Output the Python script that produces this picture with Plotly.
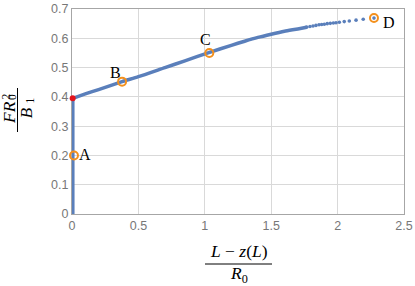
import plotly.graph_objects as go

# ---- data ----
# vertical branch at L - z(L) ~ 0
vert_x = [0.006, 0.006]
vert_y = [0.0, 0.395]

# dense part of the curve (appears as a continuous thick line)
dense_x = [0.006, 0.1, 0.2, 0.377, 0.5, 0.7, 0.85, 1.03, 1.2, 1.3, 1.4, 1.5, 1.6, 1.7, 1.767]
dense_y = [0.395, 0.410, 0.425, 0.452, 0.469, 0.500, 0.523, 0.551, 0.576, 0.590, 0.603, 0.614, 0.624, 0.632, 0.638]

# sparse dots near the end of the curve
dots_x = [1.767, 1.792, 1.815, 1.837, 1.860, 1.880, 1.900, 1.922, 1.945, 1.968,
          1.988, 2.013, 2.050, 2.088, 2.139, 2.193, 2.274]
dots_y = [0.638, 0.640, 0.642, 0.644, 0.646, 0.647, 0.648, 0.650, 0.651, 0.652,
          0.653, 0.655, 0.657, 0.659, 0.662, 0.665, 0.669]

# labelled states
state_names = ["A", "B", "C", "D"]
state_x = [0.015, 0.377, 1.034, 2.274]
state_y = [0.200, 0.452, 0.550, 0.669]
label_x = [0.098, 0.324, 1.007, 2.387]
label_y = [0.202, 0.482, 0.596, 0.653]

# transition point
red_x = [0.005]
red_y = [0.395]

x_ticks = [0, 0.5, 1, 1.5, 2, 2.5]
x_tick_text = ["0", "0.5", "1", "1.5", "2", "2.5"]
y_ticks = [0, 0.1, 0.2, 0.3, 0.4, 0.5, 0.6, 0.7]
y_tick_text = ["0", "0.1", "0.2", "0.3", "0.4", "0.5", "0.6", "0.7"]

BLUE = "#5a7fbb"
ORANGE = "#f3901d"
RED = "#e3141c"
SERIF = "Liberation Serif, Times New Roman, serif"

W, H = 415, 286
ML, MR, MT, MB = 72, 11, 9, 72
PW, PH = W - ML - MR, H - MT - MB


def px(x):
    return (x - ML) / PW


def py(y):
    return (H - MB - y) / PH


fig = go.Figure()
fig.add_trace(go.Scatter(x=vert_x, y=vert_y, mode="lines",
                         line=dict(color=BLUE, width=3.5), hoverinfo="skip"))
fig.add_trace(go.Scatter(x=dense_x, y=dense_y, mode="lines",
                         line=dict(color=BLUE, width=3.5, shape="spline", smoothing=0.6),
                         hoverinfo="skip"))
fig.add_trace(go.Scatter(x=dots_x, y=dots_y, mode="markers",
                         marker=dict(color=BLUE, size=3.6), hoverinfo="skip"))
fig.add_trace(go.Scatter(x=state_x, y=state_y, mode="markers", cliponaxis=False,
                         marker=dict(symbol="circle-open", color=ORANGE, size=8,
                                     line=dict(width=2, color=ORANGE))))
fig.add_trace(go.Scatter(x=red_x, y=red_y, mode="markers", cliponaxis=False,
                         marker=dict(color=RED, size=6)))

for n, lx, ly in zip(state_names, label_x, label_y):
    fig.add_annotation(x=lx, y=ly, text=n, showarrow=False,
                       font=dict(family=SERIF, size=16, color="black"),
                       xanchor="center", yanchor="middle")

tfont = dict(family=SERIF, size=17.5, color="black")
sfont = dict(family=SERIF, size=11.5, color="black")

# x-axis title: (L - z(L)) / R0
fig.add_annotation(xref="paper", yref="paper", x=px(238.5), y=py(251),
                   text="<i>L</i> \u2212 <i>z</i>(<i>L</i>)", showarrow=False,
                   font=tfont, xanchor="center", yanchor="middle", borderpad=0)
fig.add_shape(type="line", xref="paper", yref="paper",
              x0=px(205), x1=px(272), y0=py(264), y1=py(264),
              line=dict(color="black", width=1))
fig.add_annotation(xref="paper", yref="paper", x=px(239), y=py(274.5),
                   text="<i>R</i><sub>0</sub>", showarrow=False,
                   font=tfont, xanchor="center", yanchor="middle", borderpad=0)

# y-axis title: F R0^2 / B1 (rotated)
fig.add_annotation(xref="paper", yref="paper", x=px(9), y=py(113),
                   text="<i>FR</i>", showarrow=False, textangle=-90,
                   font=tfont, xanchor="center", yanchor="middle", borderpad=0)
fig.add_annotation(xref="paper", yref="paper", x=px(5.5), y=py(97),
                   text="2", showarrow=False, textangle=-90,
                   font=sfont, xanchor="center", yanchor="middle", borderpad=0)
fig.add_annotation(xref="paper", yref="paper", x=px(12), y=py(97),
                   text="0", showarrow=False, textangle=-90,
                   font=sfont, xanchor="center", yanchor="middle", borderpad=0)
fig.add_shape(type="line", xref="paper", yref="paper",
              x0=px(17.5), x1=px(17.5), y0=py(88), y1=py(132),
              line=dict(color="black", width=1))
fig.add_annotation(xref="paper", yref="paper", x=px(25), y=py(112.5),
                   text="<i>B</i>", showarrow=False, textangle=-90,
                   font=tfont, xanchor="center", yanchor="middle", borderpad=0)
fig.add_annotation(xref="paper", yref="paper", x=px(29.5), y=py(101),
                   text="1", showarrow=False, textangle=-90,
                   font=sfont, xanchor="center", yanchor="middle", borderpad=0)

axis_common = dict(showgrid=True, gridcolor="#d9d9d9", gridwidth=1,
                   showline=True, linecolor="#a6a6a6", linewidth=1, mirror=True,
                   zeroline=False, ticks="", layer="below traces", automargin=False,
                   tickfont=dict(family="Liberation Sans, Arial, sans-serif",
                                 size=12.5, color="#777777"))

fig.update_layout(
    width=W, height=H,
    margin=dict(l=ML, r=MR, t=MT, b=MB, autoexpand=False),
    paper_bgcolor="white", plot_bgcolor="white",
    showlegend=False,
    xaxis=dict(range=[0, 2.5], tickvals=x_ticks, ticktext=x_tick_text, **axis_common),
    yaxis=dict(range=[0, 0.7], tickvals=y_ticks, ticktext=y_tick_text, **axis_common),
)

fig.write_html("out.html", config={"displayModeBar": False},
               post_script="document.body.style.margin='0';document.body.style.padding='0';")
